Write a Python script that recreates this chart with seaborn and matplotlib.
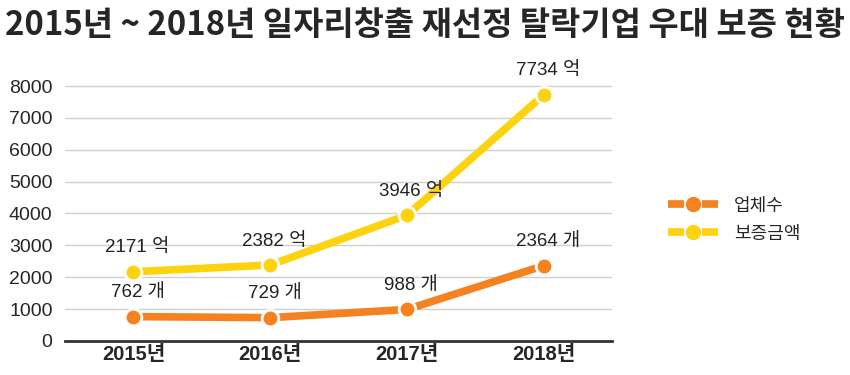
import pandas as pd
import matplotlib
matplotlib.use("Agg")
import matplotlib.pyplot as plt
import seaborn as sns
from matplotlib.lines import Line2D

# Data
years = ["2015년", "2016년", "2017년", "2018년"]
firms = [762, 729, 988, 2364]
amounts = [2171, 2382, 3946, 7734]
series_names = ["업체수", "보증금액"]
units = ["개", "억"]
colors = ["#F5821F", "#FDD20E"]

df = pd.DataFrame({
    "연도": years * 2,
    "값": firms + amounts,
    "구분": [series_names[0]] * 4 + [series_names[1]] * 4,
})

sns.set_style("white")
plt.rcParams["font.family"] = ["Liberation Sans", "Noto Sans CJK KR"]
plt.rcParams["lines.scale_dashes"] = False

fig = plt.figure(figsize=(8.5, 3.75), dpi=100)
ax = fig.add_axes([0.0765, 0.091, 0.644, 0.722])

sns.lineplot(
    data=df, x="연도", y="값", hue="구분",
    palette=dict(zip(series_names, colors)),
    marker="o", markersize=12, markeredgecolor="white", markeredgewidth=2,
    linewidth=5.5, legend=False, ax=ax, sort=False,
)

# value labels
for vals, unit in zip([firms, amounts], units):
    for i, v in enumerate(vals):
        ax.annotate(f"{v} {unit}", (i, v), xytext=(3, 11), textcoords="offset points",
                    ha="center", va="bottom", fontsize=13.5, color="#222222")

ax.set_xlim(-0.5, 3.5)
ax.set_ylim(0, 8500)
ax.set_yticks(range(0, 8001, 1000))
ax.yaxis.grid(True, color="#d0d0d0", linewidth=1)
ax.set_axisbelow(True)
for s in ["top", "right", "left"]:
    ax.spines[s].set_visible(False)
ax.spines["bottom"].set_color("#333333")
ax.spines["bottom"].set_linewidth(2)
ax.tick_params(axis="both", length=0)
ax.tick_params(axis="y", labelsize=14, pad=9)
ax.tick_params(axis="x", labelsize=14.5, pad=3)
for t in ax.get_xticklabels():
    t.set_fontweight("bold")
ax.set_xlabel("")
ax.set_ylabel("")

fig.text(0.5, 0.975, "2015년 ~ 2018년 일자리창출 재선정 탈락기업 우대 보증 현황",
         ha="center", va="top", fontsize=23.7, fontweight="bold",
         family=["Liberation Sans Narrow", "Noto Sans CJK KR"])

handles = [
    Line2D([], [], color=c, linewidth=5.5, dashes=(11.5, 13), dash_capstyle="butt",
           marker="o", markersize=11, markeredgewidth=0)
    for c in colors
]
fig.legend(handles, series_names, loc="center left", bbox_to_anchor=(0.786, 0.413),
           frameon=False, fontsize=13, handlelength=36 / 13, handletextpad=0.9,
           labelspacing=0.6, borderpad=0, borderaxespad=0)

fig.savefig("out.png", dpi=100)
